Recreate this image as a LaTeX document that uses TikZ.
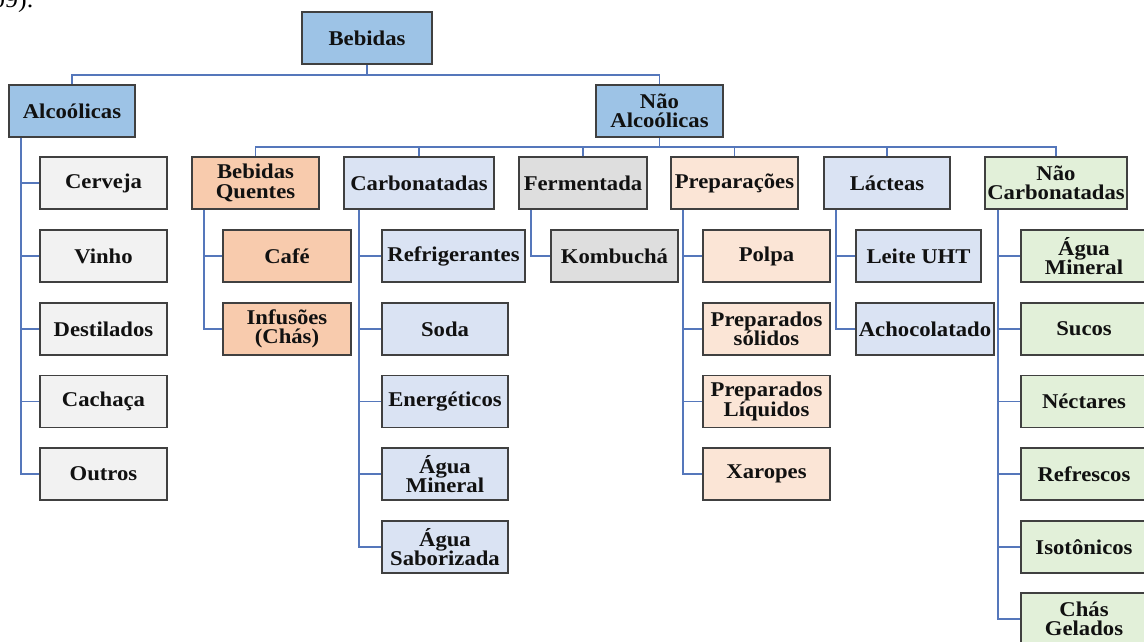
\documentclass[tikz,border=0pt]{standalone}
\usepackage{fontspec}
\setmainfont{Liberation Serif}[FakeStretch=1.08]
\usetikzlibrary{calc}
\definecolor{cBlue}{HTML}{9DC3E6}
\definecolor{cGrayL}{HTML}{F2F2F2}
\definecolor{cOrange}{HTML}{F8CBAD}
\definecolor{cBlueL}{HTML}{DAE3F3}
\definecolor{cGray}{HTML}{DEDEDE}
\definecolor{cOrangeL}{HTML}{FBE5D6}
\definecolor{cGreenL}{HTML}{E2F0D9}
\definecolor{cBorder}{HTML}{404040}
\definecolor{cLine}{HTML}{5577BB}
\definecolor{cText}{HTML}{111111}
\tikzset{
  box/.style={draw=cBorder, line width=1.6pt, minimum height=52pt, inner sep=2pt,
    align=center, font=\fontsize{21}{19.5}\selectfont\bfseries, text=cText},
  conn/.style={draw=cLine, line width=1.5pt},
}
\begin{document}
\begin{tikzpicture}[x=1pt,y=-1pt]
\useasboundingbox (0,0) rectangle (1144,641);
\clip (0,0) rectangle (1144,641);
\node[anchor=base west, font=\fontsize{24}{24}\selectfont, inner sep=0pt] (cap) at (-8,7) {09).};
% top levels
\node[box,fill=cBlue,minimum width=130pt] (root) at (367,38) {Bebidas};
\node[box,fill=cBlue,minimum width=126pt] (alc) at (72,111) {Alcoólicas};
\node[box,fill=cBlue,minimum width=127pt] (nalc) at (659.5,111) {Não\\Alcoólicas};
% alcoholic children
\node[box,fill=cGrayL,minimum width=127pt] (a1) at (103.5,183) {Cerveja};
\node[box,fill=cGrayL,minimum width=127pt] (a2) at (103.5,256) {Vinho};
\node[box,fill=cGrayL,minimum width=127pt] (a3) at (103.5,329) {Destilados};
\node[box,fill=cGrayL,minimum width=127pt] (a4) at (103.5,401.5) {Cachaça};
\node[box,fill=cGrayL,minimum width=127pt] (a5) at (103.5,474) {Outros};
% non-alcoholic level
\node[box,fill=cOrange,minimum width=127pt] (bq) at (255.5,183) {Bebidas\\Quentes};
\node[box,fill=cBlueL,minimum width=150pt] (carb) at (419,183) {Carbonatadas};
\node[box,fill=cGray,minimum width=128pt] (ferm) at (583,183) {Fermentada};
\node[box,fill=cOrangeL,minimum width=127pt] (prep) at (734.5,183) {Preparações};
\node[box,fill=cBlueL,minimum width=126pt] (lact) at (887,183) {Lácteas};
\node[box,fill=cGreenL,minimum width=142pt] (ncarb) at (1056,183) {Não\\Carbonatadas};
% hot
\node[box,fill=cOrange,minimum width=128pt] (q1) at (287,256) {Café};
\node[box,fill=cOrange,minimum width=128pt] (q2) at (287,329) {Infusões\\(Chás)};
% carbonated
\node[box,fill=cBlueL,minimum width=143pt] (c1) at (453.5,256) {Refrigerantes};
\node[box,fill=cBlueL,minimum width=126pt] (c2) at (445,329) {Soda};
\node[box,fill=cBlueL,minimum width=126pt] (c3) at (445,401.5) {Energéticos};
\node[box,fill=cBlueL,minimum width=126pt] (c4) at (445,474) {Água\\Mineral};
\node[box,fill=cBlueL,minimum width=126pt] (c5) at (445,547) {Água\\Saborizada};
% fermented
\node[box,fill=cGray,minimum width=127pt] (f1) at (614.5,256) {Kombuchá};
% preparations
\node[box,fill=cOrangeL,minimum width=127pt] (p1) at (766.5,256) {Polpa};
\node[box,fill=cOrangeL,minimum width=127pt] (p2) at (766.5,329) {Preparados\\sólidos};
\node[box,fill=cOrangeL,minimum width=127pt] (p3) at (766.5,401.5) {Preparados\\Líquidos};
\node[box,fill=cOrangeL,minimum width=127pt] (p4) at (766.5,474) {Xaropes};
% dairy
\node[box,fill=cBlueL,minimum width=125pt] (l1) at (918.5,256) {Leite UHT};
\node[box,fill=cBlueL,minimum width=138pt] (l2) at (925,329) {Achocolatado};
% non-carbonated
\node[box,fill=cGreenL,minimum width=126pt] (n1) at (1084,256) {Água\\Mineral};
\node[box,fill=cGreenL,minimum width=126pt] (n2) at (1084,329) {Sucos};
\node[box,fill=cGreenL,minimum width=126pt] (n3) at (1084,401.5) {Néctares};
\node[box,fill=cGreenL,minimum width=126pt] (n4) at (1084,474) {Refrescos};
\node[box,fill=cGreenL,minimum width=126pt] (n5) at (1084,547) {Isotônicos};
\node[box,fill=cGreenL,minimum width=126pt] (n6) at (1084,619) {Chás\\Gelados};
% connectors: top
\draw[conn] (root.south) -- (root.south |- 0,75);
\draw[conn] (alc.north) -- (alc.north |- 0,75) -- (nalc.north |- 0,75) -- (nalc.north);
\draw[conn] (nalc.south) -- (nalc.south |- 0,147);
\draw[conn] (bq.north) -- (bq.north |- 0,147) -- (ncarb.north |- 0,147) -- (ncarb.north);
\foreach \c in {carb,ferm,prep,lact}
  \draw[conn] (\c.north) -- (\c.north |- 0,147);
% connectors: children
\foreach \c in {a1,a2,a3,a4,a5}
  \draw[conn] ($(alc.south west)+(13,0)$) |- (\c.west);
\foreach \c in {q1,q2}
  \draw[conn] ($(bq.south west)+(13,0)$) |- (\c.west);
\foreach \c in {c1,c2,c3,c4,c5}
  \draw[conn] ($(carb.south west)+(16,0)$) |- (\c.west);
\draw[conn] ($(ferm.south west)+(13,0)$) |- (f1.west);
\foreach \c in {p1,p2,p3,p4}
  \draw[conn] ($(prep.south west)+(13,0)$) |- (\c.west);
\foreach \c in {l1,l2}
  \draw[conn] ($(lact.south west)+(13,0)$) |- (\c.west);
\foreach \c in {n1,n2,n3,n4,n5,n6}
  \draw[conn] ($(ncarb.south west)+(14,0)$) |- (\c.west);
\end{tikzpicture}
\end{document}
